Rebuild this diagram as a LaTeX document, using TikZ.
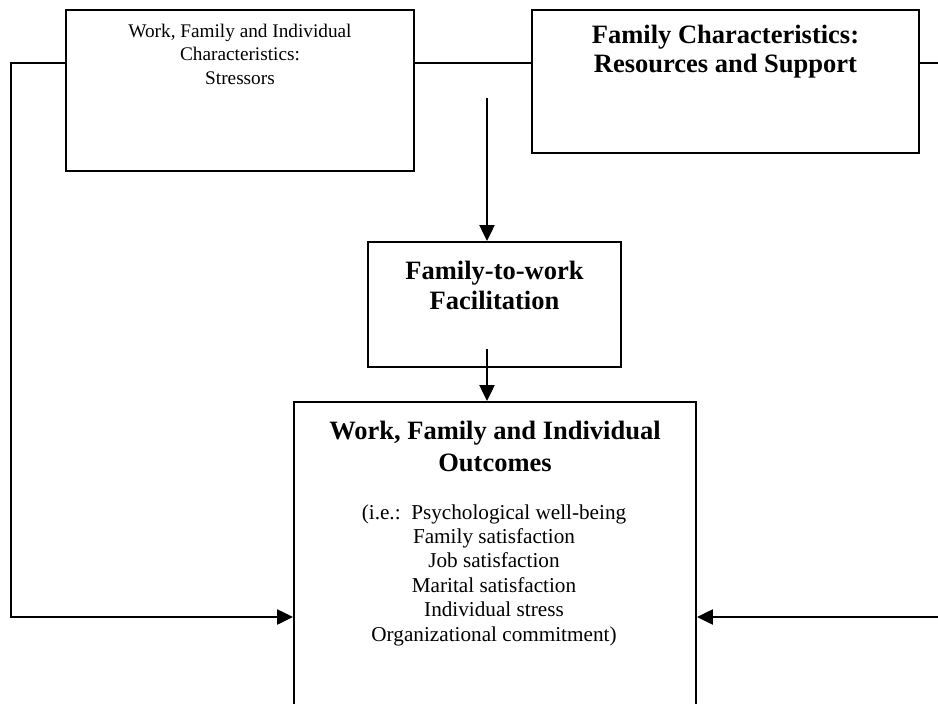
\documentclass[tikz,border=0pt]{standalone}
\usepackage{fontspec}
\setmainfont{Liberation Serif}
\usetikzlibrary{arrows.meta}

\tikzset{
    boxed/.style={rectangle,draw,line width=1.1pt,inner sep=0pt},
    smalltext/.style={font=\fontsize{10.9}{13.1}\selectfont, align=center, anchor=base, inner sep=0pt},
    titletext/.style={font=\fontsize{15}{16.8}\selectfont\bfseries, align=center, anchor=base, inner sep=0pt},
    bodytext/.style={font=\fontsize{12}{13.8}\selectfont, align=center, anchor=base, inner sep=0pt},
}

\begin{document}
\begin{tikzpicture}[x=0.566pt, y=-0.566pt, line width=1.1pt,
                    >={Triangle[length=9pt,width=8.5pt]}]
        \clip (0,0) rectangle (938,704);
        \begin{scope}[every node/.style={boxed}]
            \node (stress) [minimum width=197pt, minimum height=91.1pt] at (240, 90.5) {} ;
            \node (support) [minimum width=219pt, minimum height=80.9pt] at (725.5, 81.5) {} ;
            \node (facil) [minimum width=143.2pt, minimum height=70.75pt] at (494.5, 304.5) {} ;
            \node (outcome) [minimum width=227.5pt, minimum height=191.3pt] at (495, 571) {} ;
        \end{scope}

        % base anchor sits on the last line
        \node (stresstxt) [smalltext] at (240, 84) {Work, Family and Individual\\Characteristics:\\Stressors} ;
        \node (supporttxt) [titletext] at (725.5, 73) {Family Characteristics:\\Resources and Support} ;
        \node (faciltxt) [titletext] at (494.5, 309) {Family-to-work\\Facilitation} ;
        \node (outcometxt) [titletext, font=\fontsize{15}{17.6}\selectfont\bfseries] at (495, 471) {Work, Family and Individual\\Outcomes} ;
        \node (listtxt) [bodytext] at (494, 641) {(i.e.:\ \ Psychological well-being\\Family satisfaction\\Job satisfaction\\Marital satisfaction\\Individual stress\\Organizational commitment)} ;

        \coordinate (toprow) at (0, 63) ;
        \coordinate (lowrow) at (0, 617) ;
        \coordinate (leftrail) at (11, 63) ;
        \coordinate (rightrail) at (938, 63) ;
        \coordinate (rightin) at (938, 617) ;
        \coordinate (drop) at (487, 98) ;
        \coordinate (dropout) at (487, 349) ;

        \draw (stress.west |- toprow) -- (leftrail) -- (leftrail |- lowrow) [->] -- (outcome.west |- lowrow) ;
        \draw (stress.east |- toprow) -- (support.west |- toprow) ;
        \draw (support.east |- toprow) -- (rightrail) ;
        \draw [->] (rightin) -- (outcome.east |- lowrow) ;
        \draw [->] (drop) -- (drop |- facil.north) ;
        \draw [->] (dropout) -- (dropout |- outcome.north) ;
    \end{tikzpicture}
\end{document}
